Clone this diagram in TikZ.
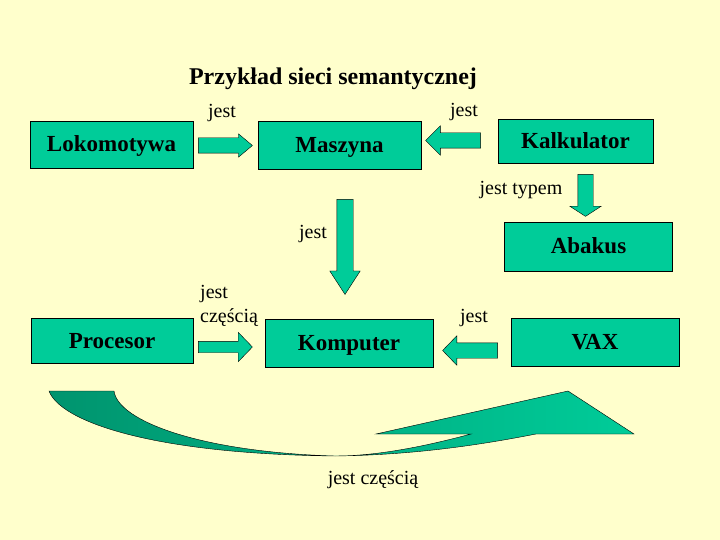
\documentclass[tikz,border=0pt]{standalone}
\usepackage{fontspec}
\setmainfont{Liberation Serif}
\usepackage{tikz}
\usetikzlibrary{shapes,arrows,calc}

\begin{document}
\begin{tikzpicture}[x=1pt,y=-1pt]
\definecolor{bgColor}{RGB}{255,255,204}
\definecolor{boxColor}{RGB}{0,204,153}
\definecolor{darkBoxColor}{RGB}{0,148,110}
\tikzset{
  box/.style={draw=black, fill=boxColor, inner sep=0pt, text height=15pt, text depth=0pt, font=\bfseries\fontsize{23}{27}\selectfont},
  blockArrow/.style={single arrow, draw=black, fill=boxColor, inner xsep=0pt, minimum width=0pt, anchor=tail},
  lbl/.style={inner sep=0pt, font=\fontsize{20}{24}\selectfont},
  bendArrow/.style={draw=black, left color=darkBoxColor, right color=boxColor}
}
\fill[bgColor] (0,0) rectangle (720,540);
\useasboundingbox (0,0) rectangle (720,540);

\node[font=\bfseries\fontsize{24}{28}\selectfont] (title) at (333,79) {Przykład sieci semantycznej};

\node[box, minimum width=163pt, minimum height=47pt] (loko) at (111.5,144.5) {Lokomotywa};
\node[box, minimum width=163pt, minimum height=48pt] (masz) at (339.5,145) {Maszyna};
\node[box, minimum width=155pt, minimum height=44pt] (kalk) at (575.5,141) {Kalkulator};
\node[box, minimum width=168pt, minimum height=49pt] (abak) at (588.5,246.5) {Abakus};
\node[box, minimum width=162pt, minimum height=45pt] (proc) at (112,340.5) {Procesor};
\node[box, minimum width=168pt, minimum height=48pt] (komp) at (349,343) {Komputer};
\node[box, minimum width=168pt, minimum height=48pt] (vax) at (595,342) {VAX};

\node[blockArrow, minimum height=54pt, inner ysep=7.5pt, single arrow head extend=4pt, single arrow tip angle=80] (a1) at ($(loko.east)+(5,1)$) {};
\node[blockArrow, rotate=180, minimum height=55pt, inner ysep=7.5pt, single arrow head extend=7pt, single arrow tip angle=90] (a2) at ($(kalk.west)+(-17,-0.5)$) {};
\node[blockArrow, rotate=-90, minimum height=42pt, inner ysep=7.5pt, single arrow head extend=8pt, single arrow tip angle=114] (a3) at ($(kalk.south)+(10,11)$) {};
\node[blockArrow, rotate=-90, minimum height=95pt, inner ysep=8pt, single arrow head extend=7pt, single arrow tip angle=66] (a4) at ($(masz.south)+(5.5,30)$) {};
\node[blockArrow, minimum height=54pt, inner ysep=5.5pt, single arrow head extend=9pt, single arrow tip angle=92] (a5) at ($(proc.east)+(5,6.5)$) {};
\node[blockArrow, rotate=180, minimum height=55pt, inner ysep=7.5pt, single arrow head extend=7pt, single arrow tip angle=92] (a6) at ($(vax.west)+(-13,8.5)$) {};

\draw[bendArrow] (49,391) -- (114,391) .. controls (118,421) and (200,452) .. (335,456) .. controls (380,456) and (430,445) .. (471,434) -- (376,434) -- (568,391) -- (634,434) -- (536,434) .. controls (490,443) and (420,455) .. (335,456) .. controls (150,454) and (60,421) .. (49,391) -- cycle;

\node[lbl] (l1) at (222,113) {jest};
\node[lbl] (l2) at (464,112) {jest};
\node[lbl] (l3) at (521,190) {jest typem};
\node[lbl] (l4) at (313,234) {jest};
\node[lbl, align=left, anchor=north west] (l5) at (200,285) {jest\\częścią};
\node[lbl] (l6) at (474,318) {jest};
\node[lbl] (l7) at (373,480) {jest częścią};
\end{tikzpicture}
\end{document}
